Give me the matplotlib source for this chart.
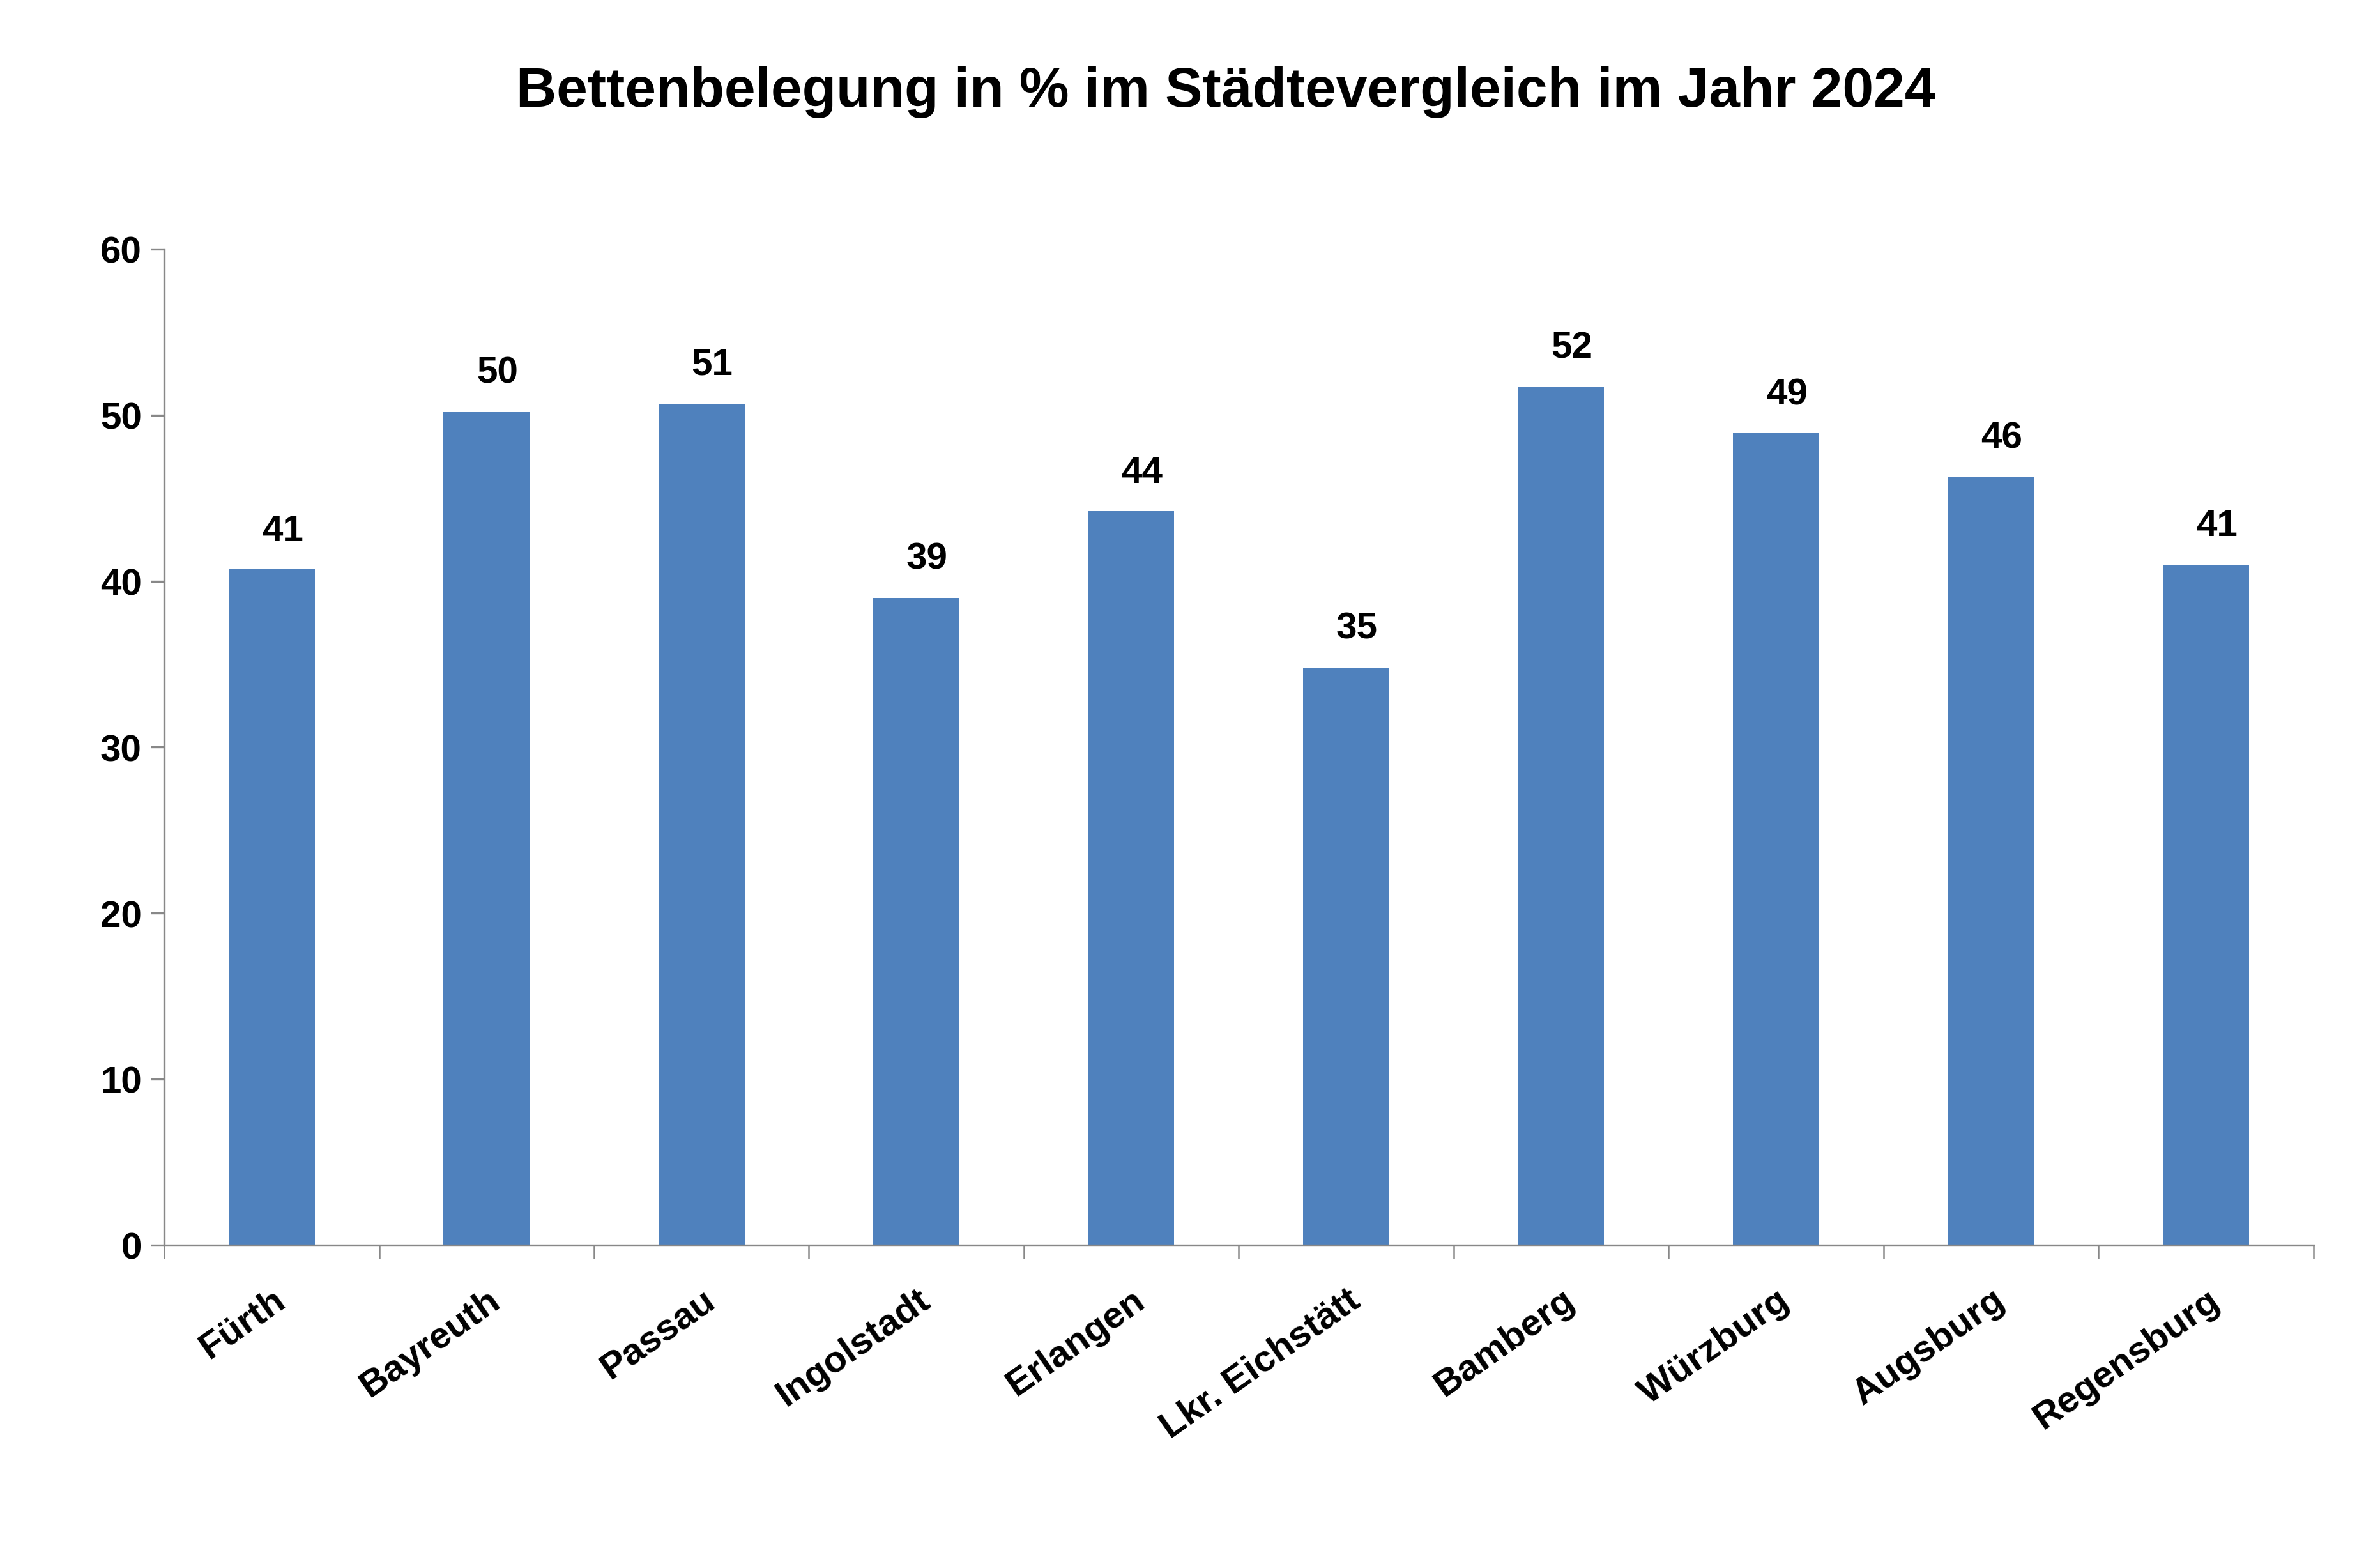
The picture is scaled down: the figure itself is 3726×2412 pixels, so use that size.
import matplotlib
matplotlib.use("Agg")
import matplotlib.pyplot as plt
import numpy as np

cities = ["Fürth","Bayreuth","Passau","Ingolstadt","Erlangen","Lkr. Eichstätt","Bamberg","Würzburg","Augsburg","Regensburg"]
values = [40.7,50.2,50.7,39.0,44.2,34.8,51.7,48.9,46.3,41.0]
labels = ["41","50","51","39","44","35","52","49","46","41"]

plt.rcParams['font.family'] = ['Liberation Sans','DejaVu Sans']
plt.rcParams['font.weight'] = 'bold'
fig = plt.figure(figsize=(12.42, 8.043), dpi=300)
ax = fig.add_axes([0.069, 0.192, 0.903, 0.646])
x = np.arange(len(cities))
ax.bar(x, values, width=0.4, color='#4F81BD')
for xi, v, l in zip(x, values, labels):
    ax.text(xi+0.05, v+1.3, l, ha='center', va='bottom', fontsize=14, fontweight='bold')
ax.set_xlim(-0.5, len(cities)-0.5)
ax.set_ylim(0, 60)
ax.set_yticks(range(0, 61, 10))
ax.set_xticks(x)
ax.set_xticklabels(cities, rotation=35, ha='right', rotation_mode='anchor', fontsize=14, fontweight='bold')
ax.tick_params(axis='x', length=0, pad=14)
ax.set_xticks(np.arange(-0.5, len(cities)), minor=True)
ax.tick_params(axis='x', which='minor', length=5, color='#888888')
ax.tick_params(axis='y', labelsize=14, length=5, color='#888888')
for l in ax.get_yticklabels():
    l.set_fontweight('bold')
for s in ['top','right']:
    ax.spines[s].set_visible(False)
for s in ['left','bottom']:
    ax.spines[s].set_color('#888888')
fig.text(0.515, 0.94, "Bettenbelegung in % im Städtevergleich im Jahr 2024", ha='center', va='center', fontsize=21, fontweight='bold')
fig.savefig("out.png", dpi=300)
